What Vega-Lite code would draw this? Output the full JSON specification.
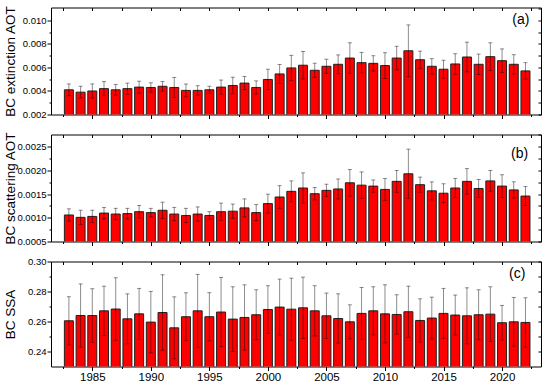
{
  "$schema": "https://vega.github.io/schema/vega-lite/v6.json",
  "padding": {"left": 3, "top": 4.5, "right": 5, "bottom": 1},
  "background": "#ffffff",
  "data": {"values": [
    {"year": 1983, "ext": 0.0041, "ext_e": 0.0005, "sca": 0.00106, "sca_e": 0.00013, "ssa": 0.2606, "ssa_e": 0.016},
    {"year": 1984, "ext": 0.0039, "ext_e": 0.0005, "sca": 0.00101, "sca_e": 0.00015, "ssa": 0.2641, "ssa_e": 0.021},
    {"year": 1985, "ext": 0.0040, "ext_e": 0.0006, "sca": 0.00103, "sca_e": 0.00013, "ssa": 0.2641, "ssa_e": 0.0178},
    {"year": 1986, "ext": 0.0042, "ext_e": 0.0006, "sca": 0.0011, "sca_e": 0.00012, "ssa": 0.2672, "ssa_e": 0.0164},
    {"year": 1987, "ext": 0.0041, "ext_e": 0.00045, "sca": 0.00108, "sca_e": 0.00012, "ssa": 0.2684, "ssa_e": 0.0208},
    {"year": 1988, "ext": 0.0042, "ext_e": 0.00047, "sca": 0.00109, "sca_e": 0.00011, "ssa": 0.2619, "ssa_e": 0.0166},
    {"year": 1989, "ext": 0.00433, "ext_e": 0.0005, "sca": 0.00113, "sca_e": 0.00013, "ssa": 0.2652, "ssa_e": 0.0169},
    {"year": 1990, "ext": 0.0043, "ext_e": 0.0004, "sca": 0.00111, "sca_e": 0.00009, "ssa": 0.2597, "ssa_e": 0.0204},
    {"year": 1991, "ext": 0.0044, "ext_e": 0.0004, "sca": 0.00116, "sca_e": 0.00017, "ssa": 0.2661, "ssa_e": 0.0251},
    {"year": 1992, "ext": 0.0043, "ext_e": 0.00085, "sca": 0.00108, "sca_e": 0.00014, "ssa": 0.2559, "ssa_e": 0.0206},
    {"year": 1993, "ext": 0.00405, "ext_e": 0.00054, "sca": 0.00105, "sca_e": 0.00015, "ssa": 0.2633, "ssa_e": 0.0159},
    {"year": 1994, "ext": 0.00405, "ext_e": 0.0004, "sca": 0.00108, "sca_e": 0.00015, "ssa": 0.2672, "ssa_e": 0.0242},
    {"year": 1995, "ext": 0.0041, "ext_e": 0.0003, "sca": 0.00105, "sca_e": 0.00008, "ssa": 0.2633, "ssa_e": 0.016},
    {"year": 1996, "ext": 0.00433, "ext_e": 0.0006, "sca": 0.00113, "sca_e": 0.00018, "ssa": 0.2664, "ssa_e": 0.023},
    {"year": 1997, "ext": 0.00447, "ext_e": 0.0007, "sca": 0.00114, "sca_e": 0.00015, "ssa": 0.2617, "ssa_e": 0.0215},
    {"year": 1998, "ext": 0.00467, "ext_e": 0.00056, "sca": 0.00121, "sca_e": 0.00019, "ssa": 0.2628, "ssa_e": 0.0217},
    {"year": 1999, "ext": 0.0043, "ext_e": 0.00056, "sca": 0.00111, "sca_e": 0.00017, "ssa": 0.2646, "ssa_e": 0.0166},
    {"year": 2000, "ext": 0.00498, "ext_e": 0.00087, "sca": 0.0013, "sca_e": 0.0002, "ssa": 0.2681, "ssa_e": 0.0158},
    {"year": 2001, "ext": 0.00545, "ext_e": 0.0008, "sca": 0.00144, "sca_e": 0.00024, "ssa": 0.2697, "ssa_e": 0.0186},
    {"year": 2002, "ext": 0.00596, "ext_e": 0.00107, "sca": 0.00156, "sca_e": 0.00022, "ssa": 0.2683, "ssa_e": 0.0206},
    {"year": 2003, "ext": 0.00619, "ext_e": 0.00117, "sca": 0.00163, "sca_e": 0.00032, "ssa": 0.2692, "ssa_e": 0.0204},
    {"year": 2004, "ext": 0.00576, "ext_e": 0.0006, "sca": 0.00151, "sca_e": 0.00013, "ssa": 0.2672, "ssa_e": 0.0167},
    {"year": 2005, "ext": 0.0061, "ext_e": 0.0006, "sca": 0.00158, "sca_e": 0.00013, "ssa": 0.2639, "ssa_e": 0.0151},
    {"year": 2006, "ext": 0.00627, "ext_e": 0.0008, "sca": 0.00161, "sca_e": 0.00021, "ssa": 0.2621, "ssa_e": 0.0164},
    {"year": 2007, "ext": 0.0068, "ext_e": 0.0013, "sca": 0.00174, "sca_e": 0.00028, "ssa": 0.2599, "ssa_e": 0.0113},
    {"year": 2008, "ext": 0.00641, "ext_e": 0.00087, "sca": 0.00169, "sca_e": 0.00028, "ssa": 0.2655, "ssa_e": 0.0172},
    {"year": 2009, "ext": 0.00635, "ext_e": 0.00065, "sca": 0.00167, "sca_e": 0.00013, "ssa": 0.2672, "ssa_e": 0.016},
    {"year": 2010, "ext": 0.00616, "ext_e": 0.0011, "sca": 0.0016, "sca_e": 0.00023, "ssa": 0.2652, "ssa_e": 0.0193},
    {"year": 2011, "ext": 0.0068, "ext_e": 0.001, "sca": 0.00177, "sca_e": 0.00023, "ssa": 0.2648, "ssa_e": 0.0131},
    {"year": 2012, "ext": 0.00742, "ext_e": 0.0022, "sca": 0.00193, "sca_e": 0.00052, "ssa": 0.2666, "ssa_e": 0.017},
    {"year": 2013, "ext": 0.00666, "ext_e": 0.00073, "sca": 0.0017, "sca_e": 0.00016, "ssa": 0.2608, "ssa_e": 0.0144},
    {"year": 2014, "ext": 0.0061, "ext_e": 0.00065, "sca": 0.00157, "sca_e": 0.00019, "ssa": 0.2624, "ssa_e": 0.0139},
    {"year": 2015, "ext": 0.00585, "ext_e": 0.00076, "sca": 0.00152, "sca_e": 0.0002, "ssa": 0.2655, "ssa_e": 0.0166},
    {"year": 2016, "ext": 0.0063, "ext_e": 0.00087, "sca": 0.00163, "sca_e": 0.0002, "ssa": 0.2644, "ssa_e": 0.0133},
    {"year": 2017, "ext": 0.00689, "ext_e": 0.00126, "sca": 0.00177, "sca_e": 0.00027, "ssa": 0.2639, "ssa_e": 0.0186},
    {"year": 2018, "ext": 0.00627, "ext_e": 0.00087, "sca": 0.00162, "sca_e": 0.00019, "ssa": 0.2646, "ssa_e": 0.0166},
    {"year": 2019, "ext": 0.00692, "ext_e": 0.00118, "sca": 0.00178, "sca_e": 0.00022, "ssa": 0.265, "ssa_e": 0.0182},
    {"year": 2020, "ext": 0.00658, "ext_e": 0.001, "sca": 0.00167, "sca_e": 0.00024, "ssa": 0.2593, "ssa_e": 0.0115},
    {"year": 2021, "ext": 0.00627, "ext_e": 0.00082, "sca": 0.00159, "sca_e": 0.00017, "ssa": 0.2599, "ssa_e": 0.0162},
    {"year": 2022, "ext": 0.00571, "ext_e": 0.0007, "sca": 0.00146, "sca_e": 0.0002, "ssa": 0.2595, "ssa_e": 0.0164}
  ]},
  "vconcat": [
    {
      "width": 490, "height": 107,
      "layer": [
        {"mark": {"type": "bar", "size": 9, "fill": "#ff0000", "stroke": "#222222", "strokeWidth": 1, "clip": true},
         "encoding": {
           "x": {"field": "year", "type": "quantitative", "scale": {"domain": [1981.9, 2022.9], "nice": false, "zero": false},
                 "axis": {"orient": "bottom", "values": [1982.5, 1985, 1987.5, 1990, 1992.5, 1995, 1997.5, 2000, 2002.5, 2005, 2007.5, 2010, 2012.5, 2015, 2017.5, 2020, 2022.5], "labels": false, "title": null, "minExtent": 0, "maxExtent": 4, "tickSize": {"condition": {"test": "datum.value % 5 === 0", "value": 4}, "value": 2}}},
           "y": {"field": "ext", "type": "quantitative", "scale": {"domain": [0.002, 0.0111], "nice": false, "zero": false},
                 "axis": {"orient": "left", "values": [0.002, 0.003, 0.004, 0.005, 0.006, 0.007, 0.008, 0.009, 0.010], "format": ".3f", "labelExpr": "round(datum.value*1000) % 2 === 0 ? datum.label : ''", "tickSize": {"condition": {"test": "round(datum.value*1000) % 2 === 0", "value": 4}, "value": 2}, "title": "BC extinction AOT", "titleFontSize": 13.5, "labelFontSize": 9.5, "labelPadding": 1, "minExtent": 30, "maxExtent": 30, "titlePadding": 4}}
         }},
        {"mark": {"type": "errorbar", "ticks": {"size": 4, "color": "#000000", "opacity": 0.45}, "rule": {"color": "#000000", "opacity": 0.45, "strokeWidth": 1}},
         "encoding": {
           "x": {"field": "year", "type": "quantitative", "axis": {"orient": "top", "values": [1982.5, 1985, 1987.5, 1990, 1992.5, 1995, 1997.5, 2000, 2002.5, 2005, 2007.5, 2010, 2012.5, 2015, 2017.5, 2020, 2022.5], "labels": false, "title": null, "minExtent": 0, "maxExtent": 0, "tickSize": -3}},
           "y": {"field": "ext", "type": "quantitative", "axis": {"orient": "right", "values": [0.002, 0.003, 0.004, 0.005, 0.006, 0.007, 0.008, 0.009, 0.010, 0.011], "labels": false, "title": null, "minExtent": 0, "maxExtent": 0, "tickSize": -3}},
           "yError": {"field": "ext_e"}
         }},
        {"data": {"values": [{"lab": "(a)"}]},
         "mark": {"type": "text", "fontSize": 14, "color": "#000000"},
         "encoding": {
           "x": {"datum": 2021.6, "type": "quantitative", "axis": null},
           "y": {"datum": 0.01006, "type": "quantitative", "axis": null},
           "text": {"field": "lab"}
         }}
      ],
      "resolve": {"axis": {"x": "independent", "y": "independent"}}
    },
    {
      "width": 490, "height": 107,
      "layer": [
        {"mark": {"type": "bar", "size": 9, "fill": "#ff0000", "stroke": "#222222", "strokeWidth": 1, "clip": true},
         "encoding": {
           "x": {"field": "year", "type": "quantitative", "scale": {"domain": [1981.9, 2022.9], "nice": false, "zero": false},
                 "axis": {"orient": "bottom", "values": [1982.5, 1985, 1987.5, 1990, 1992.5, 1995, 1997.5, 2000, 2002.5, 2005, 2007.5, 2010, 2012.5, 2015, 2017.5, 2020, 2022.5], "labels": false, "title": null, "minExtent": 0, "maxExtent": 4, "tickSize": {"condition": {"test": "datum.value % 5 === 0", "value": 4}, "value": 2}}},
           "y": {"field": "sca", "type": "quantitative", "scale": {"domain": [0.0005, 0.00276], "nice": false, "zero": false},
                 "axis": {"orient": "left", "values": [0.0005, 0.00075, 0.001, 0.00125, 0.0015, 0.00175, 0.002, 0.00225, 0.0025], "format": ".4f", "labelExpr": "round(datum.value*4000) % 2 === 0 ? datum.label : ''", "tickSize": {"condition": {"test": "round(datum.value*4000) % 2 === 0", "value": 4}, "value": 2}, "title": "BC scattering AOT", "titleFontSize": 13.5, "labelFontSize": 9.5, "labelPadding": 1, "minExtent": 30, "maxExtent": 30, "titlePadding": 4}}
         }},
        {"mark": {"type": "errorbar", "ticks": {"size": 4, "color": "#000000", "opacity": 0.45}, "rule": {"color": "#000000", "opacity": 0.45, "strokeWidth": 1}},
         "encoding": {
           "x": {"field": "year", "type": "quantitative", "axis": {"orient": "top", "values": [1982.5, 1985, 1987.5, 1990, 1992.5, 1995, 1997.5, 2000, 2002.5, 2005, 2007.5, 2010, 2012.5, 2015, 2017.5, 2020, 2022.5], "labels": false, "title": null, "minExtent": 0, "maxExtent": 0, "tickSize": -3}},
           "y": {"field": "sca", "type": "quantitative", "axis": {"orient": "right", "values": [0.0005, 0.00075, 0.001, 0.00125, 0.0015, 0.00175, 0.002, 0.00225, 0.0025, 0.00275], "labels": false, "title": null, "minExtent": 0, "maxExtent": 0, "tickSize": -3}},
           "yError": {"field": "sca_e"}
         }},
        {"data": {"values": [{"lab": "(b)"}]},
         "mark": {"type": "text", "fontSize": 14, "color": "#000000"},
         "encoding": {
           "x": {"datum": 2021.5, "type": "quantitative", "axis": null},
           "y": {"datum": 0.00234, "type": "quantitative", "axis": null},
           "text": {"field": "lab"}
         }}
      ],
      "resolve": {"axis": {"x": "independent", "y": "independent"}}
    },
    {
      "width": 490, "height": 105,
      "layer": [
        {"mark": {"type": "bar", "size": 9, "fill": "#ff0000", "stroke": "#222222", "strokeWidth": 1, "clip": true},
         "encoding": {
           "x": {"field": "year", "type": "quantitative", "scale": {"domain": [1981.9, 2022.9], "nice": false, "zero": false},
                 "axis": {"orient": "bottom", "values": [1982.5, 1985, 1987.5, 1990, 1992.5, 1995, 1997.5, 2000, 2002.5, 2005, 2007.5, 2010, 2012.5, 2015, 2017.5, 2020, 2022.5], "format": "d", "labelExpr": "datum.value % 5 === 0 ? datum.label : ''", "labelFontSize": 11.5, "labelPadding": 1, "labelOverlap": false, "labelFlush": false, "title": null, "tickSize": {"condition": {"test": "datum.value % 5 === 0", "value": 4}, "value": 2}}},
           "y": {"field": "ssa", "type": "quantitative", "scale": {"domain": [0.2302, 0.3], "nice": false, "zero": false},
                 "axis": {"orient": "left", "values": [0.24, 0.25, 0.26, 0.27, 0.28, 0.29, 0.30], "format": ".2f", "labelExpr": "round(datum.value*100) % 2 === 0 ? datum.label : ''", "tickSize": {"condition": {"test": "round(datum.value*100) % 2 === 0", "value": 4}, "value": 2}, "title": "BC SSA", "titleFontSize": 13.5, "labelFontSize": 9.5, "labelPadding": 1, "minExtent": 30, "maxExtent": 30, "titlePadding": 4}}
         }},
        {"mark": {"type": "errorbar", "ticks": {"size": 4, "color": "#000000", "opacity": 0.45}, "rule": {"color": "#000000", "opacity": 0.45, "strokeWidth": 1}},
         "encoding": {
           "x": {"field": "year", "type": "quantitative", "axis": {"orient": "top", "values": [1982.5, 1985, 1987.5, 1990, 1992.5, 1995, 1997.5, 2000, 2002.5, 2005, 2007.5, 2010, 2012.5, 2015, 2017.5, 2020, 2022.5], "labels": false, "title": null, "minExtent": 0, "maxExtent": 0, "tickSize": -3}},
           "y": {"field": "ssa", "type": "quantitative", "axis": {"orient": "right", "values": [0.24, 0.25, 0.26, 0.27, 0.28, 0.29, 0.30], "labels": false, "title": null, "minExtent": 0, "maxExtent": 0, "tickSize": -3}},
           "yError": {"field": "ssa_e"}
         }},
        {"data": {"values": [{"lab": "(c)"}]},
         "mark": {"type": "text", "fontSize": 14, "color": "#000000"},
         "encoding": {
           "x": {"datum": 2021.3, "type": "quantitative", "axis": null},
           "y": {"datum": 0.2914, "type": "quantitative", "axis": null},
           "text": {"field": "lab"}
         }}
      ],
      "resolve": {"axis": {"x": "independent", "y": "independent"}}
    }
  ],
  "spacing": 20,
  "bounds": "flush",
  "config": {
    "font": "Liberation Sans",
    "view": {"stroke": null},
    "axis": {"grid": false, "domainColor": "#000000", "domainWidth": 1, "tickColor": "#000000", "tickWidth": 1, "labelColor": "#000000", "titleColor": "#000000", "labelFont": "Liberation Sans", "titleFont": "Liberation Sans", "titleFontWeight": "normal"}
  }
}
